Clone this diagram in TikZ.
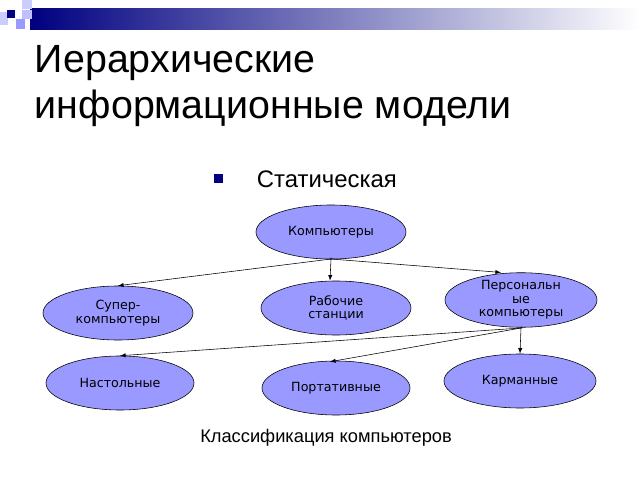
\documentclass[tikz,border=0pt]{standalone}
\usepackage{fontspec}
\setmainfont{Liberation Sans}
\newfontfamily\boxfont{DejaVu Sans}
\usetikzlibrary{arrows,calc,shapes.geometric}
\definecolor{navy}{RGB}{0,0,128}
\definecolor{lilac}{RGB}{153,153,255}

\begin{document}
\begin{tikzpicture}[
        x=0.025cm, y=-0.025cm,
        class/.style={ellipse, draw=black, fill=lilac,
            minimum width=3.75cm, minimum height=1.35cm, inner sep=0pt,
            align=center, font=\boxfont\fontsize{9}{9.5}\selectfont},
        link/.style={thin, ->, >=latex, shorten <=-1pt},
        every node/.style={color=black},
    ]
    \useasboundingbox (0,0) rectangle (640,480);

    % header bar
    \shade[left color=navy, right color=white]
        (30,8) rectangle (640,29);
    \fill[blue!20!white] (0,12) rectangle (8,25);
    \fill[blue!20!white] (22,0) rectangle (32,9);
    \fill[blue!25!white] (22,10) rectangle (32,19);
    \fill[blue!40!white] (16,19) rectangle (25,29);
    \fill[navy] (7,10) rectangle (15,18);

    \node[anchor=north west, align=left, font=\fontsize{28}{33}\selectfont]
        (title) at (30,40) {Иерархические\\информационные модели};

    \fill[navy] (214,174) rectangle (223,183);
    \node[anchor=west, font=\fontsize{17}{20}\selectfont] (kind) at (252,179) {Статическая};

    \node[class] (comp) at (331,232) {Компьютеры};
    \node[class] (super) at (118,313) {Супер-\\компьютеры};
    \node[class] (work) at (336,308) {Рабочие\\станции};
    \node[class, minimum width=3.8cm] (pers) at (521,300) {Персональн\\ые\\компьютеры};
    \node[class, minimum width=3.7cm] (desk) at (120,383) {Настольные};
    \node[class, minimum width=3.7cm] (lap) at (336,388) {Портативные};
    \node[class, minimum width=3.8cm] (pocket) at (520,381) {Карманные};

    \coordinate (c0) at (331,259);
    \coordinate (p0) at (521,328);
    \draw[link] (c0) -- (super.north);
    \draw[link] (c0) -- ($(work.north)+(-6,0)$);
    \draw[link] (c0) -- ($(pers.north)+(-20,0)$);
    \draw[link] (p0) -- (desk.north);
    \draw[link] (p0) -- ($(lap.north)+(-6,1)$);
    \draw[link] (p0) -- (pocket.north);

    \node[font=\fontsize{13}{15}\selectfont] (caption) at (326,438)
        {Классификация компьютеров};
\end{tikzpicture}
\end{document}
